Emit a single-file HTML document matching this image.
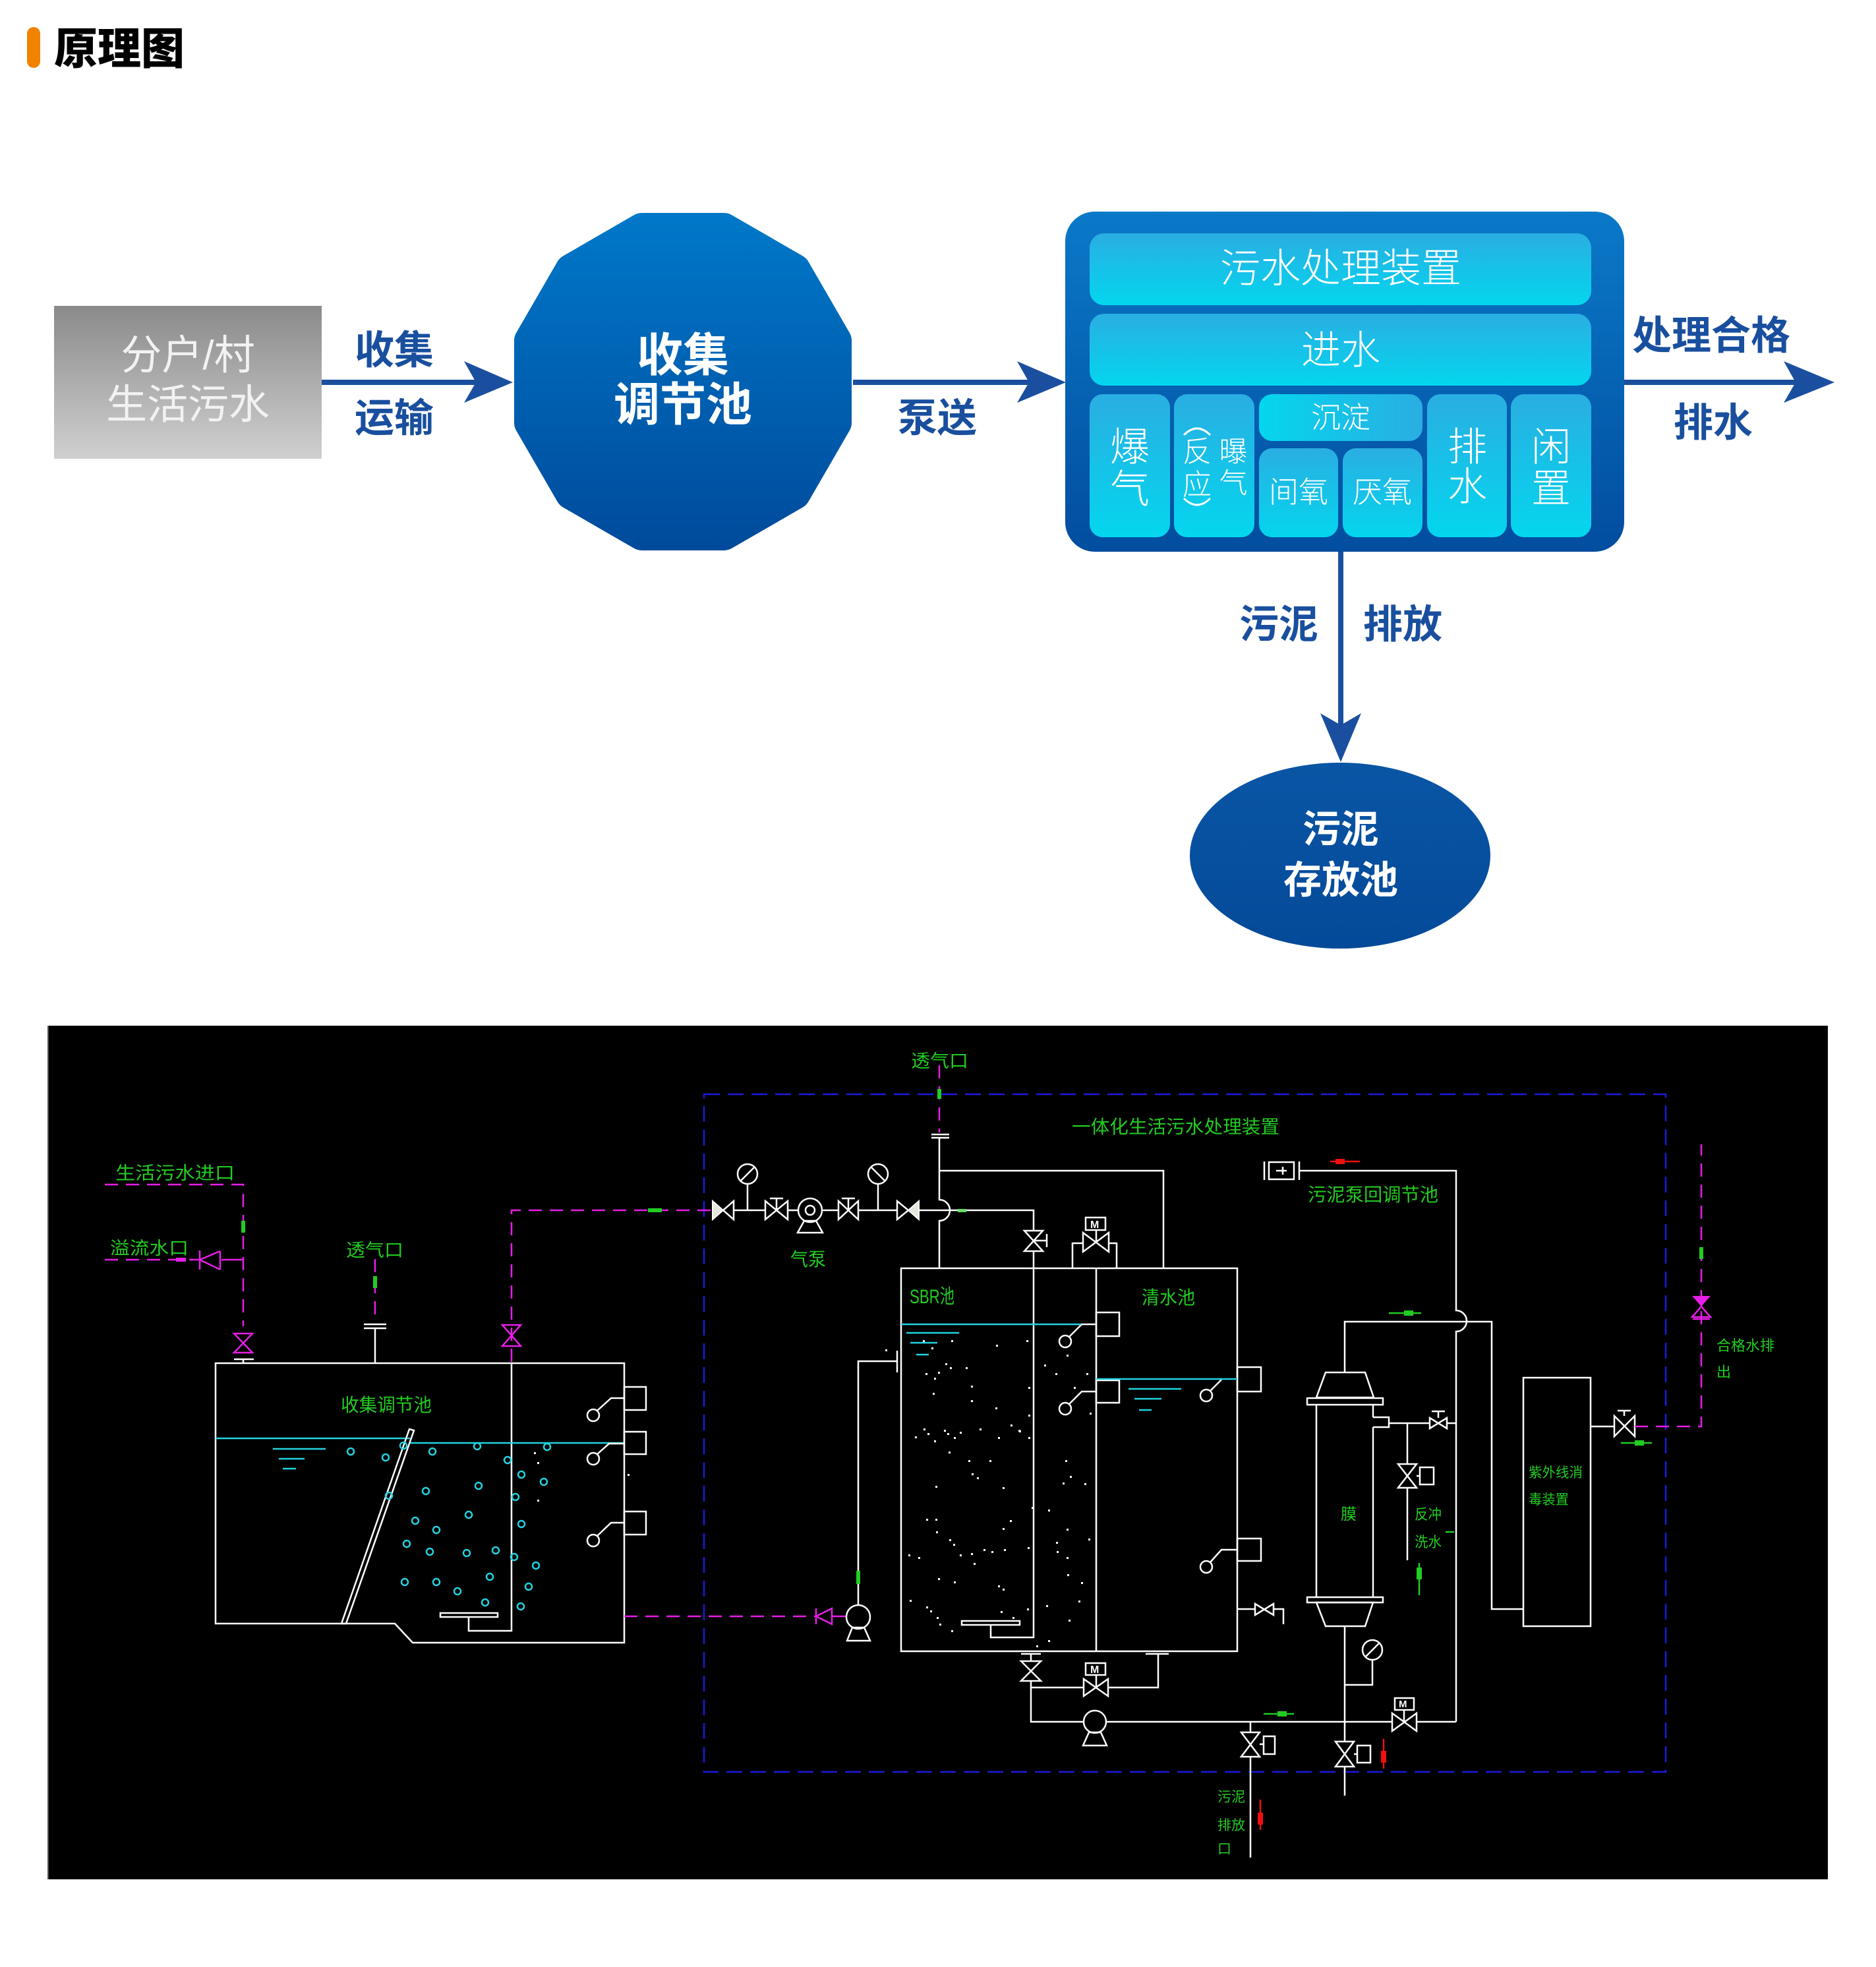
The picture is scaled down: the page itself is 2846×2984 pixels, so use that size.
<!DOCTYPE html>
<html><head><meta charset="utf-8"><style>
html,body{margin:0;padding:0;background:#fff;}
svg{display:block;}
text{font-family:"Liberation Sans","Noto Sans CJK SC",sans-serif;}
.w{stroke:#fff;stroke-width:2.5;fill:none}
.c{stroke:#22d3e0;stroke-width:2.5;fill:none}
.m{stroke:#e61ee6;stroke-width:2.5;fill:none;stroke-dasharray:20 12}
.ms{stroke:#e61ee6;stroke-width:2.5;fill:none}
.bd{stroke:#1a1ae0;stroke-width:2.5;fill:none;stroke-dasharray:24 12}
.g{fill:#22cc22}
.lt{fill:#fff;font-weight:300}
.bl{fill:#194f9e;font-weight:700}
</style></head><body>
<svg width="2846" height="2984" viewBox="0 0 2846 2984" xmlns="http://www.w3.org/2000/svg">
<defs>
 <linearGradient id="gray" x1="0" y1="0" x2="0" y2="1"><stop offset="0" stop-color="#8a8a8a"/><stop offset="1" stop-color="#d0d0d0"/></linearGradient>
 <linearGradient id="dod" gradientUnits="userSpaceOnUse" x1="0" y1="323" x2="0" y2="835"><stop offset="0" stop-color="#0078c9"/><stop offset="1" stop-color="#004a9b"/></linearGradient>
 <linearGradient id="box" x1="0" y1="0" x2="0" y2="1"><stop offset="0" stop-color="#0a79c8"/><stop offset="1" stop-color="#024d9f"/></linearGradient>
 <linearGradient id="cell" x1="0" y1="0" x2="0" y2="1"><stop offset="0" stop-color="#2aaee2"/><stop offset="1" stop-color="#04d6ee"/></linearGradient>
 <linearGradient id="cellh" x1="0" y1="0" x2="1" y2="0"><stop offset="0" stop-color="#04d6ee"/><stop offset="1" stop-color="#2aaee2"/></linearGradient>
 <linearGradient id="ell" x1="0" y1="0" x2="0" y2="1"><stop offset="0" stop-color="#0a55a5"/><stop offset="1" stop-color="#044a99"/></linearGradient>
</defs>

<!-- Title -->
<rect x="41" y="41" width="20" height="62" rx="10" fill="#f08300"/>
<text x="82" y="97" font-size="66" font-weight="900" fill="#000">原理图</text>

<!-- Source box -->
<rect x="82" y="464" width="406" height="232" fill="url(#gray)"/>
<text x="285" y="560" font-size="62" fill="#f2f2f2" text-anchor="middle">分户/村</text>
<text x="285" y="635" font-size="62" fill="#f2f2f2" text-anchor="middle">生活污水</text>

<!-- Arrow 1 -->
<rect x="488" y="576" width="234" height="8" fill="#1a4f9f"/>
<polygon points="704,548 778,580 704,611 722,580" fill="#1a4f9f"/>
<text class="bl" x="598" y="552" font-size="60" text-anchor="middle">收集</text>
<text class="bl" x="598" y="655" font-size="60" text-anchor="middle">运输</text>

<!-- Dodecagon -->
<polygon points="1268,516.8 1205.8,409.2 1098.2,347 973.8,347 866.2,409.2 804,516.8 804,641.2 866.2,748.8 973.8,811 1098.2,811 1205.8,748.8 1268,641.2" fill="url(#dod)" stroke="url(#dod)" stroke-width="48" stroke-linejoin="round"/>
<text x="1036" y="563" font-size="70" font-weight="700" fill="#fff" text-anchor="middle">收集</text>
<text x="1036" y="638" font-size="70" font-weight="700" fill="#fff" text-anchor="middle">调节池</text>

<!-- Arrow 2 -->
<rect x="1294" y="576" width="268" height="8" fill="#1a4f9f"/>
<polygon points="1543,548 1617,580 1543,611 1561,580" fill="#1a4f9f"/>
<text class="bl" x="1422" y="655" font-size="60" text-anchor="middle">泵送</text>

<!-- Treatment box -->
<rect x="1616" y="321" width="848" height="516" rx="45" fill="url(#box)"/>
<rect x="1653" y="354" width="761" height="109" rx="22" fill="url(#cell)"/>
<rect x="1653" y="476" width="761" height="109" rx="22" fill="url(#cell)"/>
<rect x="1653" y="598" width="122" height="217" rx="20" fill="url(#cell)"/>
<rect x="1781" y="598" width="122" height="217" rx="20" fill="url(#cell)"/>
<rect x="1910" y="598" width="248" height="71" rx="20" fill="url(#cellh)"/>
<rect x="1910" y="680" width="120" height="135" rx="20" fill="url(#cell)"/>
<rect x="2037" y="680" width="121" height="135" rx="20" fill="url(#cell)"/>
<rect x="2165" y="598" width="121" height="217" rx="20" fill="url(#cell)"/>
<rect x="2292" y="598" width="122" height="217" rx="20" fill="url(#cell)"/>
<text class="lt" x="2034" y="428" font-size="61" text-anchor="middle">污水处理装置</text>
<text class="lt" x="2034" y="552" font-size="60" text-anchor="middle">进水</text>
<text class="lt" x="1714" y="699" font-size="60" text-anchor="middle">爆</text>
<text class="lt" x="1714" y="763" font-size="60" text-anchor="middle">气</text>
<path d="M1796 660 Q1816 640 1836 660" stroke="#fff" stroke-width="3" fill="none"/>
<text class="lt" x="1816" y="700" font-size="44" text-anchor="middle">反</text>
<text class="lt" x="1816" y="750" font-size="44" text-anchor="middle">应</text>
<path d="M1796 756 Q1816 776 1836 756" stroke="#fff" stroke-width="3" fill="none"/>
<text class="lt" x="1871" y="700" font-size="43" text-anchor="middle">曝</text>
<text class="lt" x="1871" y="748" font-size="43" text-anchor="middle">气</text>
<text class="lt" x="2034" y="649" font-size="45" text-anchor="middle">沉淀</text>
<text class="lt" x="1970" y="762" font-size="45" text-anchor="middle">间氧</text>
<text class="lt" x="2097" y="762" font-size="45" text-anchor="middle">厌氧</text>
<text class="lt" x="2226" y="699" font-size="60" text-anchor="middle">排</text>
<text class="lt" x="2226" y="759" font-size="60" text-anchor="middle">水</text>
<text class="lt" x="2353" y="699" font-size="60" text-anchor="middle">闲</text>
<text class="lt" x="2353" y="762" font-size="60" text-anchor="middle">置</text>

<!-- Arrow 3 -->
<rect x="2464" y="576" width="262" height="8" fill="#1a4f9f"/>
<polygon points="2706,548 2783,580 2706,611 2724,580" fill="#1a4f9f"/>
<text class="bl" x="2596" y="530" font-size="60" text-anchor="middle">处理合格</text>
<text class="bl" x="2599" y="662" font-size="60" text-anchor="middle">排水</text>

<!-- Sludge arrow -->
<rect x="2030" y="837" width="8" height="265" fill="#1a4f9f"/>
<polygon points="2003,1082 2034,1156 2065,1082 2034,1100" fill="#1a4f9f"/>
<text class="bl" x="1940" y="968" font-size="60" text-anchor="middle">污泥</text>
<text class="bl" x="2128" y="968" font-size="60" text-anchor="middle">排放</text>
<ellipse cx="2033" cy="1298" rx="228" ry="141" fill="url(#ell)"/>
<text x="2034" y="1278" font-size="58" font-weight="700" fill="#fff" text-anchor="middle">污泥</text>
<text x="2034" y="1355" font-size="58" font-weight="700" fill="#fff" text-anchor="middle">存放池</text>

<!-- ================= CAD ================= -->
<rect x="73" y="1556" width="2700" height="1295" fill="#000"/>
<line x1="73" y1="1556" x2="73" y2="2851" stroke="#555" stroke-width="2"/>

<!-- blue dashed boundary -->
<rect x="1068" y="1660" width="1459" height="1028" class="bd"/>

<!-- left inlets -->
<text class="g" x="175" y="1789" font-size="27" textLength="181" lengthAdjust="spacingAndGlyphs">生活污水进口</text>
<polyline class="m" points="159,1797 369,1797 369,2012"/>
<rect x="366" y="1852" width="6" height="18" fill="#22cc22"/>
<text class="g" x="167" y="1903" font-size="27" textLength="119" lengthAdjust="spacingAndGlyphs">溢流水口</text>
<line class="m" x1="159" y1="1911" x2="303" y2="1911"/>
<line class="ms" x1="336" y1="1911" x2="369" y2="1911"/>
<rect x="267" y="1908" width="15" height="6" fill="#e61ee6"/>
<path class="ms" d="M303 1897 V1926 M303 1911 L334 1898 M303 1911 L334 1926 M334 1898 V1926"/>
<path class="ms" d="M355 2023 L383 2023 L355 2052 L383 2052 Z"/>
<path class="w" d="M355 2062 H385 M369 2062 V2068"/>

<text class="g" x="525" y="1906" font-size="27" textLength="87" lengthAdjust="spacingAndGlyphs">透气口</text>
<line class="m" x1="569" y1="1910" x2="569" y2="1995"/>
<rect x="566" y="1936" width="6" height="18" fill="#22cc22"/>
<path class="w" d="M552 2009 H586 M552 2015 H586 M569 2015 V2068"/>

<!-- collection tank -->
<path class="w" d="M327 2068 H947 V2492 H626 L599 2463 H327 Z"/>
<path class="w" d="M776 2068 V2474 H711 V2453"/>
<rect x="668" y="2447" width="87" height="6" class="w"/>
<polyline class="m" points="776,2066 776,1836 1081,1836"/>
<path class="ms" d="M762 2010 L790 2010 L762 2042 L790 2042 Z"/>
<rect x="983" y="1833" width="21" height="6" fill="#22cc22"/>
<text class="g" x="517" y="2141" font-size="28" textLength="138" lengthAdjust="spacingAndGlyphs">收集调节池</text>
<path class="c" d="M327 2182 H622 M622 2189 H947 M414 2198 H494 M423 2213 H462 M429 2228 H449"/>
<polygon class="w" points="621,2168 628,2170 525,2463 518,2463"/>
<g class="c" stroke-width="2">
<circle cx="532" cy="2202" r="5"/><circle cx="585" cy="2211" r="5"/><circle cx="612" cy="2193" r="5"/><circle cx="656" cy="2202" r="5"/><circle cx="724" cy="2194" r="5"/><circle cx="770" cy="2215" r="5"/><circle cx="830" cy="2195" r="5"/><circle cx="791" cy="2237" r="5"/><circle cx="825" cy="2248" r="5"/><circle cx="726" cy="2254" r="5"/><circle cx="646" cy="2262" r="5"/><circle cx="590" cy="2269" r="5"/><circle cx="782" cy="2271" r="5"/><circle cx="711" cy="2298" r="5"/><circle cx="630" cy="2307" r="5"/><circle cx="791" cy="2312" r="5"/><circle cx="662" cy="2321" r="5"/><circle cx="617" cy="2342" r="5"/><circle cx="652" cy="2354" r="5"/><circle cx="708" cy="2356" r="5"/><circle cx="752" cy="2352" r="5"/><circle cx="780" cy="2362" r="5"/><circle cx="813" cy="2375" r="5"/><circle cx="614" cy="2400" r="5"/><circle cx="662" cy="2400" r="5"/><circle cx="743" cy="2392" r="5"/><circle cx="802" cy="2407" r="5"/><circle cx="694" cy="2414" r="5"/><circle cx="736" cy="2431" r="5"/><circle cx="790" cy="2437" r="5"/>
</g>
<g class="w">
<circle cx="900" cy="2147" r="9"/><path d="M906 2140 L927 2121 H947"/>
<circle cx="900" cy="2213" r="9"/><path d="M906 2206 L924 2190 H947"/>
<circle cx="900" cy="2337" r="9"/><path d="M906 2330 L927 2310 H947"/>
<rect x="947" y="2104" width="33" height="35"/>
<rect x="947" y="2172" width="33" height="34"/>
<rect x="947" y="2293" width="33" height="35"/>
</g>
<path fill="#fff" d="M810 2203h3v3h-3z M815 2218h3v3h-3z M815 2275h3v3h-3z M952 2236h3v3h-3z"/>

<!-- feed line to SBR -->
<line class="m" x1="947" y1="2452" x2="1238" y2="2452"/>
<path class="ms" d="M1238 2440 V2464 M1238 2452 L1262 2440 V2464 Z M1262 2452 H1284"/>
<g class="w">
<circle cx="1302" cy="2453" r="18"/>
<path d="M1293 2469 H1311 L1320 2489 H1285 Z"/>
<path d="M1302 2435 V2065 H1361 M1361 2049 V2082"/>
</g>
<rect x="1299" y="2383" width="6" height="20" fill="#22cc22"/>

<!-- top vent -->
<text class="g" x="1382" y="1619" font-size="27" textLength="87" lengthAdjust="spacingAndGlyphs">透气口</text>
<line class="m" x1="1425" y1="1616" x2="1425" y2="1718"/>
<rect x="1422" y="1652" width="6" height="15" fill="#22cc22"/>
<g class="w">
<path d="M1413 1721 H1440 M1413 1726 H1440"/>
<path d="M1425 1726 V1820 A16 16 0 0 1 1425 1852 V1924"/>
<path d="M1425 1776 H1765 V1924"/>
<!-- main air line -->
<path d="M1113 1836 H1161 M1195 1836 H1211 M1247 1836 H1272 M1302 1836 H1361 M1394 1836 H1568 V1866"/>
<path d="M1113 1822 V1850 L1097 1836 Z"/>
<circle cx="1134" cy="1781" r="15"/><path d="M1134 1796 V1836 M1124 1791 L1144 1771"/>
<path d="M1161 1822 L1195 1850 L1195 1822 L1161 1850 Z M1178 1836 V1818 M1168 1818 H1188"/>
<circle cx="1229" cy="1836" r="18"/><circle cx="1229" cy="1836" r="7"/>
<path d="M1220 1852 H1238 L1248 1870 H1210 Z"/>
<path d="M1272 1822 L1302 1850 L1302 1822 L1272 1850 Z M1287 1836 V1818 M1277 1818 H1297"/>
<circle cx="1332" cy="1781" r="15"/><path d="M1332 1796 V1836 M1322 1771 L1342 1791"/>
<path d="M1361 1822 V1850 L1378 1836 Z"/>
<!-- valve on drop -->
<path d="M1554 1867 L1582 1867 L1554 1898 L1582 1898 Z M1568 1882 H1588 M1588 1872 V1892"/>
<path d="M1568 1898 V2484 H1503 V2465"/>
<rect x="1459" y="2459" width="88" height="6"/>
<!-- motor valve top -->
<rect x="1647" y="1847" width="30" height="19"/>
<path d="M1663 1866 V1884 M1643 1870 L1682 1899 L1682 1870 L1643 1899 Z M1627 1924 V1886 H1643 M1682 1886 H1694 V1924"/>
</g>
<path d="M1081 1822 V1850 L1097 1836 Z" fill="#e6e6dc" stroke="#fff" stroke-width="2"/>
<path d="M1394 1822 V1850 L1378 1836 Z" fill="#e6e6dc" stroke="#fff" stroke-width="2"/>
<text x="1654" y="1863" font-size="16" fill="#fff" font-weight="700">M</text>
<rect x="1453" y="1834" width="13" height="5" fill="#66dd66"/>
<text class="g" x="1199" y="1920" font-size="28" textLength="54" lengthAdjust="spacingAndGlyphs">气泵</text>

<!-- SBR tank -->
<g class="w">
<rect x="1367" y="1924" width="510" height="581"/>
<line x1="1663" y1="1924" x2="1663" y2="2505"/>
<path d="M1640 2009 H1663"/>
<circle cx="1616" cy="2035" r="9"/><path d="M1622 2028 L1641 2009"/>
<circle cx="1616" cy="2137" r="9"/><path d="M1622 2130 L1641 2111 H1663"/>
<rect x="1663" y="1991" width="35" height="36"/>
<rect x="1663" y="2094" width="35" height="34"/>
<circle cx="1830" cy="2117" r="9"/><path d="M1836 2110 L1853 2093"/>
<circle cx="1830" cy="2377" r="9"/><path d="M1836 2370 L1853 2351 H1877"/>
<rect x="1877" y="2074" width="36" height="37"/>
<rect x="1877" y="2334" width="36" height="34"/>
<path d="M1877 2441 H1904 M1932 2441 H1947 V2464 M1904 2433 L1932 2450 L1932 2433 L1904 2450 Z"/>
</g>
<path class="c" d="M1367 2009 H1640 M1375 2022 H1455 M1381 2037 H1422 M1390 2055 H1409 M1663 2092 H1877 M1712 2107 H1792 M1721 2122 H1762 M1728 2139 H1747"/>
<text class="g" x="1380" y="1977" font-size="30" textLength="68" lengthAdjust="spacingAndGlyphs">SBR池</text>
<text class="g" x="1732" y="1978" font-size="28" textLength="81" lengthAdjust="spacingAndGlyphs">清水池</text>
<path fill="#fff" d="M1400 2033h3v3h-3z M1443 2033h3v3h-3z M1511 2040h3v3h-3z M1557 2033h3v3h-3z M1413 2044h3v3h-3z M1343 2047h3v3h-3z M1434 2068h3v3h-3z M1441 2074h3v3h-3z M1465 2074h3v3h-3z M1404 2083h3v3h-3z M1423 2081h3v3h-3z M1417 2090h3v3h-3z M1473 2102h3v3h-3z M1415 2113h3v3h-3z M1473 2124h3v3h-3z M1510 2135h3v3h-3z M1560 2146h3v3h-3z M1401 2167h3v3h-3z M1407 2174h3v3h-3z M1432 2169h3v3h-3z M1437 2174h3v3h-3z M1456 2172h3v3h-3z M1447 2180h3v3h-3z M1486 2167h3v3h-3z M1514 2180h3v3h-3z M1533 2161h3v3h-3z M1545 2169h3v3h-3z M1560 2180h3v3h-3z M1388 2179h3v3h-3z M1417 2185h3v3h-3z M1439 2202h3v3h-3z M1469 2215h3v3h-3z M1501 2215h3v3h-3z M1474 2235h3v3h-3z M1482 2241h3v3h-3z M1419 2254h3v3h-3z M1521 2256h3v3h-3z M1584 2070h3v3h-3z M1601 2083h3v3h-3z M1648 2083h3v3h-3z M1629 2104h3v3h-3z M1653 2143h3v3h-3z M1618 2055h3v3h-3z M1616 2215h3v3h-3z M1623 2239h3v3h-3z M1612 2249h3v3h-3z M1423 2394h3v3h-3z M1447 2399h3v3h-3z M1514 2405h3v3h-3z M1521 2410h3v3h-3z M1380 2427h3v3h-3z M1405 2437h3v3h-3z M1411 2443h3v3h-3z M1421 2453h3v3h-3z M1425 2463h3v3h-3z M1443 2473h3v3h-3z M1518 2444h3v3h-3z M1536 2453h3v3h-3z M1558 2440h3v3h-3z M1587 2435h3v3h-3z M1636 2428h3v3h-3z M1621 2457h3v3h-3z M1572 2496h3v3h-3z M1590 2488h3v3h-3z M1560 2104h3v3h-3z M1546 2170h3v3h-3z M1565 2286h3v3h-3z M1618 2319h3v3h-3z M1651 2334h3v3h-3z M1602 2339h3v3h-3z M1603 2353h3v3h-3z M1618 2362h3v3h-3z M1619 2388h3v3h-3z M1559 2347h3v3h-3z M1477 2371h3v3h-3z M1523 2350h3v3h-3z M1504 2353h3v3h-3z M1492 2350h3v3h-3z M1473 2356h3v3h-3z M1456 2358h3v3h-3z M1393 2362h3v3h-3z M1378 2358h3v3h-3z M1446 2342h3v3h-3z M1440 2335h3v3h-3z M1420 2323h3v3h-3z M1405 2304h3v3h-3z M1419 2304h3v3h-3z M1532 2306h3v3h-3z M1521 2318h3v3h-3z M1645 2250h3v3h-3z M1590 2290h3v3h-3z M1640 2400h3v3h-3z"/>

<!-- below SBR -->
<g class="w">
<path d="M1549 2509 H1579 M1564 2509 V2520 M1549 2520 L1579 2520 L1549 2550 L1579 2550 Z M1564 2550 V2612 H1644"/>
<path d="M1564 2560 H1644 M1681 2560 H1757 V2509 M1738 2509 H1773"/>
<path d="M1644 2547 L1681 2573 L1681 2547 L1644 2573 Z M1663 2541 V2560"/>
<rect x="1647" y="2523" width="30" height="18"/>
<circle cx="1661" cy="2612" r="17"/>
<path d="M1652 2628 H1670 L1679 2648 H1643 Z"/>
<path d="M1678 2612 H2112 M2149 2612 H2209"/>
</g>
<text x="1654" y="2538" font-size="16" fill="#fff" font-weight="700">M</text>

<!-- right section -->
<text class="g" x="1626" y="1719" font-size="28" textLength="315" lengthAdjust="spacingAndGlyphs">一体化生活污水处理装置</text>
<g class="w">
<path d="M1918 1762 V1790 M1971 1762 V1790"/>
<rect x="1925" y="1763" width="38" height="26"/>
<path d="M1936 1776 H1952 M1946 1770 V1782"/>
<path d="M1971 1776 H2209 V1988 A16 16 0 0 1 2209 2020 V2612"/>
<path d="M2040 2082 V2005 H2263 V2441 H2311"/>
<path d="M2011 2082 H2071 L2084 2120 H1997 Z"/>
<rect x="1983" y="2121" width="115" height="10"/>
<path d="M1997 2131 V2423 M2083 2131 V2150 M2083 2165 V2423"/>
<path d="M2083 2150 H2107 V2165 H2083"/>
<rect x="1983" y="2423" width="115" height="8"/>
<path d="M1997 2431 H2083 L2071 2467 H2011 Z"/>
<path d="M2107 2159 H2169 M2195 2159 H2209 M2169 2151 L2195 2167 L2195 2151 L2169 2167 Z M2182 2151 V2141 M2172 2141 H2192"/>
<path d="M2135 2159 V2221 M2135 2257 V2367 M2121 2221 L2149 2221 L2121 2257 L2149 2257 Z M2149 2239 H2154"/>
<rect x="2154" y="2226" width="21" height="26"/>
<circle cx="2082" cy="2503" r="15"/><path d="M2072 2513 L2092 2493 M2082 2518 V2556 H2040"/>
<path d="M2040 2467 V2642 M2040 2680 V2724 M2026 2642 L2054 2642 L2026 2680 L2054 2680 Z M2054 2661 H2059"/>
<rect x="2059" y="2648" width="20" height="26"/>
<path d="M2112 2599 L2149 2626 L2149 2599 L2112 2626 Z M2130 2594 V2612"/>
<rect x="2116" y="2576" width="29" height="18"/>
<path d="M1897 2612 V2628 M1897 2665 V2818 M1883 2628 L1911 2628 L1883 2665 L1911 2665 Z M1911 2646 H1917"/>
<rect x="1917" y="2634" width="17" height="27"/>
<rect x="2311" y="2090" width="102" height="377"/>
<path d="M2413 2164 H2449 M2449 2148 L2480 2179 L2480 2148 L2449 2179 Z M2464 2148 V2140 M2454 2140 H2474"/>
</g>
<text x="2122" y="2590" font-size="15" fill="#fff" font-weight="700">M</text>
<!-- red arrows -->
<path d="M2018 1762 H2063" stroke="#f01010" stroke-width="2.5"/>
<rect x="2026" y="1758" width="14" height="8" fill="#f01010"/>
<path d="M2099 2638 V2683" stroke="#f01010" stroke-width="2.5"/>
<rect x="2095" y="2656" width="8" height="18" fill="#f01010"/>
<path d="M1912 2730 V2776" stroke="#f01010" stroke-width="2.5"/>
<rect x="1908" y="2750" width="8" height="18" fill="#f01010"/>
<!-- green arrows -->
<path d="M2107 1992 H2156 M2153 2371 V2420 M1917 2600 H1963 M2459 2189 H2506" stroke="#22cc22" stroke-width="2.5"/>
<rect x="2130" y="1988" width="14" height="8" fill="#22cc22"/>
<rect x="2149" y="2378" width="8" height="18" fill="#22cc22"/>
<rect x="1938" y="2596" width="14" height="8" fill="#22cc22"/>
<rect x="2480" y="2185" width="14" height="8" fill="#22cc22"/>
<!-- labels -->
<text class="g" x="1984" y="1822" font-size="28" textLength="198" lengthAdjust="spacingAndGlyphs">污泥泵回调节池</text>
<text class="g" x="2034" y="2305" font-size="24">膜</text>
<text class="g" x="2146" y="2305" font-size="22" textLength="41" lengthAdjust="spacingAndGlyphs">反冲</text>
<text class="g" x="2146" y="2347" font-size="22" textLength="41" lengthAdjust="spacingAndGlyphs">洗水</text>
<path d="M2193 2324 H2206" stroke="#22cc22" stroke-width="2.5"/>
<text class="g" x="2319" y="2241" font-size="21" textLength="82" lengthAdjust="spacingAndGlyphs">紫外线消</text>
<text class="g" x="2319" y="2282" font-size="21" textLength="61" lengthAdjust="spacingAndGlyphs">毒装置</text>
<text class="g" x="1847" y="2733" font-size="21" textLength="42" lengthAdjust="spacingAndGlyphs">污泥</text>
<text class="g" x="1847" y="2776" font-size="21" textLength="42" lengthAdjust="spacingAndGlyphs">排放</text>
<text class="g" x="1847" y="2812" font-size="21">口</text>
<!-- outlet magenta -->
<polyline class="m" points="2480,2164 2581,2164 2581,1736"/>
<path d="M2567 1966 H2595 L2581 1982 Z" fill="#e61ee6"/>
<path class="ms" d="M2581 1982 L2567 1998 H2595 Z M2568 2001 H2594"/>
<rect x="2578" y="1892" width="6" height="18" fill="#22cc22"/>
<text class="g" x="2604" y="2049" font-size="22" textLength="88" lengthAdjust="spacingAndGlyphs">合格水排</text>
<text class="g" x="2604" y="2089" font-size="22">出</text>
</svg>
</body></html>
